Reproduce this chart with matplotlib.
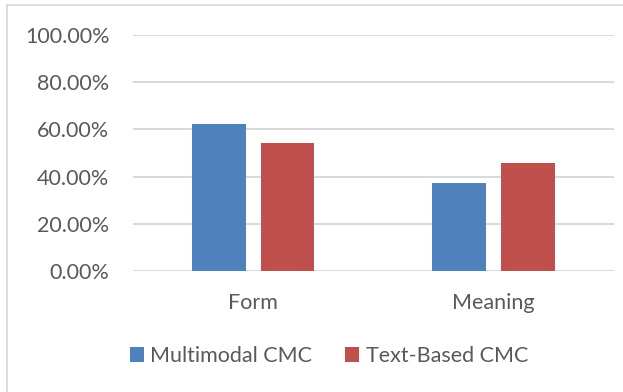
import matplotlib

matplotlib.use("Agg")
import matplotlib.pyplot as plt
from matplotlib.patches import Patch, Rectangle
from matplotlib.ticker import FuncFormatter, MultipleLocator

categories = ["Form", "Meaning"]
series_names = ["Multimodal CMC", "Text-Based CMC"]
multimodal = [0.625, 0.375]
text_based = [0.542, 0.458]

BLUE = "#4F81BD"
RED = "#C0504D"
TEXT = "#595959"
GRID = "#D9D9D9"

plt.rcParams["font.family"] = ["Lato", "DejaVu Sans"]

W, H = 623, 392
fig = plt.figure(figsize=(W / 100, H / 100), dpi=100)

# chart-area frame: only the top and left edges fall inside the canvas
fig.patches.append(Rectangle((6.5 / W, -0.2), 1.2, 1.2 - 5.5 / H,
                             transform=fig.transFigure, fill=False,
                             edgecolor=GRID, linewidth=1.3))

ax = fig.add_axes([133 / W, (H - 271) / H, 480.5 / W, 236 / H])

x = range(len(categories))
width = 0.223
offset = 0.143
ax.bar([i - offset for i in x], multimodal, width, color=BLUE, zorder=3)
ax.bar([i + offset for i in x], text_based, width, color=RED, zorder=3)

ax.set_xlim(-0.5, 1.5)
ax.set_ylim(0, 1.0)
ax.yaxis.set_major_locator(MultipleLocator(0.2))
ax.yaxis.set_major_formatter(FuncFormatter(lambda v, _: f"{v * 100:.2f}%"))
ax.set_xticks(list(x))
ax.set_xticklabels(categories)

ax.grid(axis="y", color=GRID, linewidth=1.4, zorder=0)
ax.set_axisbelow(True)
for side in ["top", "right", "left", "bottom"]:
    ax.spines[side].set_visible(False)
ax.tick_params(axis="both", length=0, labelsize=15.5, labelcolor=TEXT)
ax.tick_params(axis="y", pad=17)
ax.tick_params(axis="x", pad=15.5)

handles = [Patch(facecolor=BLUE, edgecolor="none"),
           Patch(facecolor=RED, edgecolor="none")]
fig.legend(handles, series_names, loc="center",
           bbox_to_anchor=(329 / W, 1 - 356 / H), ncol=2, frameon=False,
           fontsize=15.5, labelcolor=TEXT, handlelength=0.65, handleheight=0.65,
           handletextpad=0.3, columnspacing=1.55, borderpad=0, borderaxespad=0)

fig.savefig("out.png", dpi=100)
